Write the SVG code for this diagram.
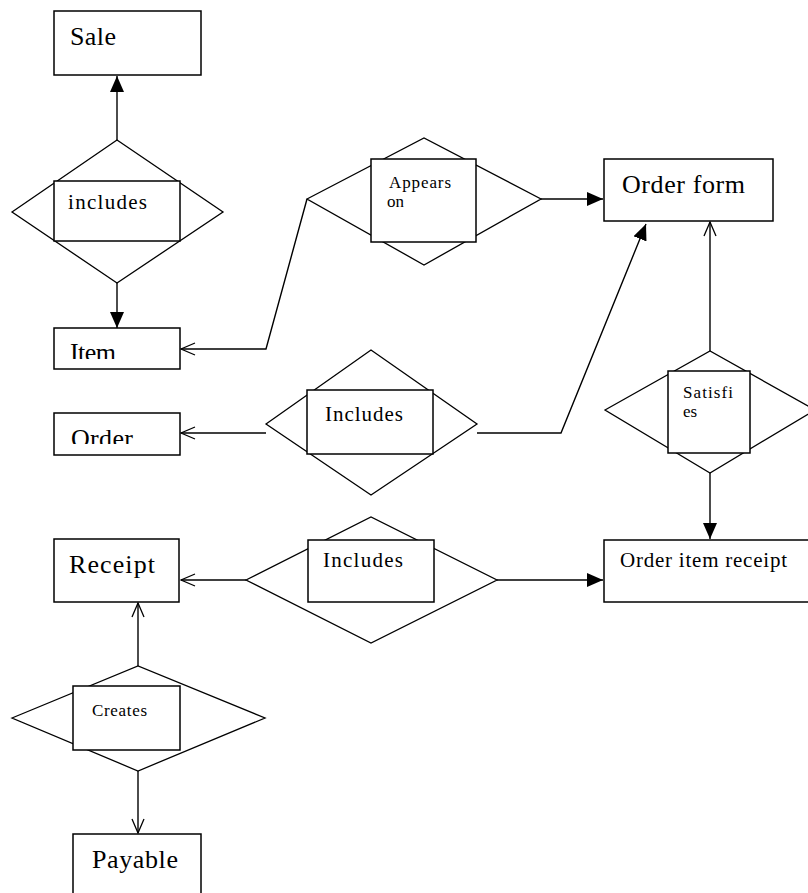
<svg xmlns="http://www.w3.org/2000/svg" width="808" height="893" viewBox="0 0 808 893">
  <style>
    .box { fill: #fff; stroke: #000; stroke-width: 1.5; }
    .dia { fill: #fff; stroke: #000; stroke-width: 1.3; }
    .lbl { fill: #fff; stroke: #000; stroke-width: 1.5; }
    .line { fill: none; stroke: #000; stroke-width: 1.4; }
    .big { font-size: 26px; }
    .mid { font-size: 21px; }
    .small { font-size: 17px; }
  </style>
  <defs>
    <marker id="filled" viewBox="0 0 16 14" refX="16" refY="7" markerWidth="16" markerHeight="14" markerUnits="userSpaceOnUse" orient="auto">
      <path d="M0,0 L16,7 L0,14 Z" fill="#000"/>
    </marker>
    <marker id="open" viewBox="0 0 16 14" refX="15" refY="7" markerWidth="16" markerHeight="14" markerUnits="userSpaceOnUse" orient="auto">
      <path d="M1,1 L15,7 L1,13" fill="none" stroke="#000" stroke-width="1.3"/>
    </marker>
    <clipPath id="clipItem"><rect x="54" y="328" width="126" height="31"/></clipPath>
    <clipPath id="clipOrder"><rect x="54" y="413" width="126" height="31"/></clipPath>
  </defs>

  <rect width="808" height="893" fill="#fff"/>

  <!-- connectors -->
  <g id="connectors">
    <path class="line" d="M117,140 L117,76" marker-end="url(#filled)"/>
    <path class="line" d="M117,283 L117,328" marker-end="url(#filled)"/>
    <path class="line" d="M307,199 L266,349 L181,349" marker-end="url(#open)"/>
    <path class="line" d="M541,199 L603,199" marker-end="url(#filled)"/>
    <path class="line" d="M266,433 L181,433" marker-end="url(#open)"/>
    <path class="line" d="M477,433 L561,433 L646,224" marker-end="url(#filled)"/>
    <path class="line" d="M710,351 L710,222" marker-end="url(#open)"/>
    <path class="line" d="M710,473 L710,539" marker-end="url(#filled)"/>
    <path class="line" d="M246,580 L181,580" marker-end="url(#open)"/>
    <path class="line" d="M497,580 L603,580" marker-end="url(#filled)"/>
    <path class="line" d="M138,666 L138,603" marker-end="url(#open)"/>
    <path class="line" d="M138,771 L138,833" marker-end="url(#open)"/>
  </g>

  <g font-family="'Liberation Serif', 'DejaVu Serif', serif" fill="#000" lengthAdjust="spacing">
    <!-- entities -->
    <g id="sale">
      <rect class="box" x="54" y="11" width="147" height="64"/>
      <text class="big" x="70" y="45" textLength="46">Sale</text>
    </g>
    <g id="item">
      <rect class="box" x="54" y="328" width="126" height="41"/>
      <text class="big" x="70" y="361" textLength="46" clip-path="url(#clipItem)">Item</text>
    </g>
    <g id="order">
      <rect class="box" x="54" y="413" width="126" height="42"/>
      <text class="big" x="71" y="447" textLength="62" clip-path="url(#clipOrder)">Order</text>
    </g>
    <g id="order-form">
      <rect class="box" x="604" y="159" width="169" height="62"/>
      <text class="big" x="622" y="193" textLength="123">Order form</text>
    </g>
    <g id="receipt">
      <rect class="box" x="54" y="539" width="125" height="63"/>
      <text class="big" x="69" y="573" textLength="86">Receipt</text>
    </g>
    <g id="order-item-receipt">
      <rect class="box" x="604" y="540" width="210" height="62"/>
      <text class="mid" x="620" y="567" textLength="167">Order item receipt</text>
    </g>
    <g id="payable">
      <rect class="box" x="73" y="834" width="128" height="70"/>
      <text class="big" x="92" y="868" textLength="86">Payable</text>
    </g>

    <!-- relationships -->
    <g id="rel-includes-sale">
      <polygon class="dia" points="12,212 117,140 223,212 117,283"/>
      <rect class="lbl" x="54" y="181" width="126" height="60"/>
      <text class="mid" x="68" y="209" textLength="79">includes</text>
    </g>
    <g id="rel-appears-on">
      <polygon class="dia" points="307,199 424,138 541,199 424,265"/>
      <rect class="lbl" x="371" y="159" width="105" height="83"/>
      <text class="small" x="389" y="188" textLength="62">Appears</text>
      <text class="small" x="387" y="207">on</text>
    </g>
    <g id="rel-includes-order">
      <polygon class="dia" points="266,424 371,350 477,424 371,495"/>
      <rect class="lbl" x="307" y="390" width="126" height="64"/>
      <text class="mid" x="325" y="421" textLength="78">Includes</text>
    </g>
    <g id="rel-satisfies">
      <polygon class="dia" points="605,410 710,351 815,410 710,473"/>
      <rect class="lbl" x="668" y="371" width="82" height="82"/>
      <text class="small" x="683" y="398" textLength="50">Satisfi</text>
      <text class="small" x="683" y="417">es</text>
    </g>
    <g id="rel-includes-receipt">
      <polygon class="dia" points="246,580 371,517 497,580 371,643"/>
      <rect class="lbl" x="308" y="540" width="126" height="62"/>
      <text class="mid" x="323" y="567" textLength="80">Includes</text>
    </g>
    <g id="rel-creates">
      <polygon class="dia" points="12,718 138,666 265,718 138,771"/>
      <rect class="lbl" x="73" y="686" width="107" height="64"/>
      <text class="small" x="92" y="716" textLength="55">Creates</text>
    </g>
  </g>
</svg>
